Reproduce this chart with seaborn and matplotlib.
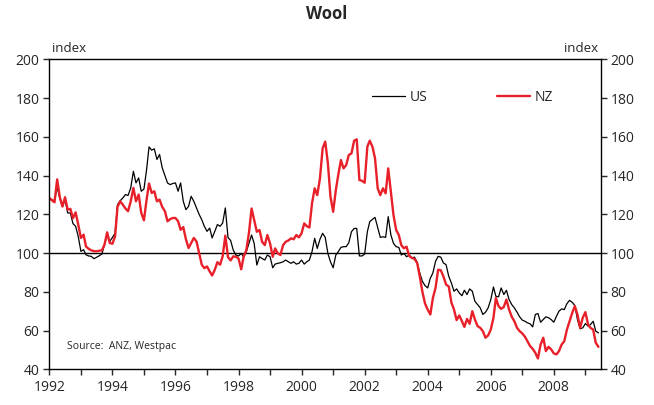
import matplotlib
matplotlib.use("Agg")
import matplotlib.pyplot as plt
import matplotlib.dates as mdates
from matplotlib.ticker import FuncFormatter
import seaborn as sns
import pandas as pd

# Monthly wool price index, Jan 1992 - Jun 2009
start_month = "1992-01-01"
us = [128.4, 127.5, 127.0, 134.0, 128.4, 124.0, 127.6, 120.7, 120.7, 115.2,
      113.8, 108.6, 100.9, 101.7, 99.1, 98.5, 98.3, 97.1, 97.8, 98.6,
      99.5, 104.3, 109.5, 106.0, 108.0, 110.3, 125.0, 127.0, 128.4, 130.2,
      129.7, 133.6, 142.2, 136.2, 138.8, 131.9, 133.0, 143.1, 154.8, 153.1,
      153.8, 148.3, 150.9, 144.0, 140.0, 136.2, 135.3, 135.9, 136.2, 131.9,
      136.2, 126.7, 122.4, 124.1, 129.3, 126.7, 123.3, 120.0, 117.2, 113.8,
      111.2, 112.9, 107.8, 111.2, 114.7, 113.8, 115.5, 123.3, 108.0, 106.5,
      101.5, 99.0, 98.5, 99.8, 98.1, 100.7, 105.0, 109.3, 105.0, 93.8,
      98.1, 97.2, 96.4, 99.0, 98.1, 92.4, 94.3, 94.7, 95.0, 95.5,
      96.4, 95.5, 94.7, 95.5, 94.3, 94.7, 96.4, 94.3, 95.5, 96.4,
      100.7, 107.6, 102.4, 107.1, 110.2, 108.1, 99.8, 95.5, 92.4, 99.0,
      100.7, 102.9, 103.3, 103.3, 105.3, 111.0, 112.7, 112.7, 98.5, 98.5,
      99.5, 111.0, 116.2, 117.4, 118.4, 113.2, 108.1, 108.4, 108.1, 118.8,
      109.3, 105.0, 103.3, 102.9, 99.0, 99.8, 98.1, 99.0, 97.5, 97.9,
      95.2, 89.7, 85.4, 83.2, 82.0, 87.1, 89.7, 95.7, 98.3, 97.9,
      94.9, 94.0, 88.0, 84.6, 80.3, 81.5, 79.4, 78.0, 80.8, 78.6,
      81.5, 80.3, 75.1, 73.4, 71.7, 68.3, 69.5, 71.7, 76.0, 82.5,
      77.7, 77.4, 82.0, 78.6, 80.8, 76.0, 73.4, 71.7, 69.5, 67.1,
      65.4, 64.8, 64.0, 63.5, 61.9, 68.3, 68.8, 64.3, 65.7, 67.1,
      66.6, 65.7, 64.3, 67.4, 70.0, 71.2, 70.8, 73.9, 75.6, 74.6,
      72.9, 65.7, 60.9, 61.4, 63.6, 62.3, 63.1, 64.8, 59.7, 58.8]
nz = [128.4, 127.2, 126.2, 138.0, 129.0, 124.0, 128.8, 122.4, 122.8, 118.0,
      121.0, 114.7, 107.8, 109.5, 103.4, 102.2, 101.4, 101.0, 100.9, 101.2,
      101.4, 104.3, 110.7, 105.2, 104.8, 108.6, 123.8, 126.7, 125.0, 123.0,
      121.6, 126.7, 133.6, 126.7, 130.2, 120.7, 116.9, 127.6, 135.9, 131.0,
      131.9, 126.7, 127.6, 123.8, 121.6, 116.4, 117.5, 118.1, 118.1, 116.4,
      112.0, 113.4, 107.2, 102.6, 105.2, 107.8, 106.0, 100.0, 94.0, 92.2,
      93.1, 90.5, 88.4, 91.4, 95.3, 94.0, 98.3, 109.0, 97.9, 96.2,
      98.3, 98.1, 97.2, 91.6, 98.1, 101.5, 110.2, 123.0, 117.0, 111.0,
      111.9, 105.8, 104.1, 109.3, 105.0, 98.1, 102.4, 99.8, 99.0, 104.1,
      105.8, 106.5, 107.6, 107.1, 109.3, 108.1, 110.2, 115.3, 113.9, 113.2,
      125.6, 133.4, 129.9, 138.5, 154.0, 157.5, 146.3, 129.1, 121.3, 132.5,
      140.3, 148.0, 143.7, 145.4, 150.6, 151.4, 158.0, 158.7, 137.7, 137.3,
      136.3, 154.9, 158.0, 154.9, 148.9, 133.4, 129.9, 133.4, 130.8, 143.7,
      131.7, 119.6, 111.9, 109.3, 104.1, 102.5, 103.3, 98.5, 97.5, 97.0,
      94.9, 88.0, 80.0, 74.0, 70.8, 68.3, 76.8, 82.0, 91.4, 91.1,
      88.0, 83.7, 82.8, 74.6, 70.8, 65.4, 67.8, 64.8, 61.9, 66.0,
      63.5, 70.0, 65.7, 62.3, 61.4, 59.7, 56.3, 57.5, 60.5, 66.6,
      76.8, 72.6, 71.2, 72.2, 76.0, 70.8, 67.1, 64.8, 61.4, 59.7,
      58.5, 56.8, 54.5, 52.0, 50.6, 48.5, 45.6, 52.8, 56.3, 49.4,
      51.6, 50.3, 48.2, 47.7, 49.4, 52.8, 54.5, 60.5, 64.8, 69.1,
      72.6, 68.3, 61.4, 66.6, 69.5, 63.1, 61.4, 60.5, 53.7, 51.6]
y_ticks = [40, 60, 80, 100, 120, 140, 160, 180, 200]

dates = pd.date_range(start_month, periods=len(us), freq="MS")
df = pd.concat([
    pd.DataFrame({"date": dates, "value": us, "series": "US"}),
    pd.DataFrame({"date": dates, "value": nz, "series": "NZ"}),
])

sns.set_style("white")
plt.rcParams["font.family"] = ["Open Sans", "DejaVu Sans"]

fig = plt.figure(figsize=(6.54, 4.05), dpi=100)
ax = fig.add_axes([0.0754, 0.0881, 0.8436, 0.7655])

red = "#e8202a"
sns.lineplot(data=df, x="date", y="value", hue="series", size="series",
             hue_order=["US", "NZ"], size_order=["US", "NZ"],
             palette={"US": "black", "NZ": red}, sizes={"US": 0.9, "NZ": 1.7},
             ax=ax, legend=False)

ax.axhline(100, color="black", lw=1.0, zorder=1)

ax.set_ylim(40, 200)
ax.set_yticks(y_ticks)
ax.set_xlim(pd.Timestamp("1992-01-01"), pd.Timestamp("2009-07-01"))
ax.xaxis.set_major_locator(mdates.YearLocator(1))
ax.xaxis.set_major_formatter(FuncFormatter(
    lambda v, p: str(mdates.num2date(v).year) if mdates.num2date(v).year % 2 == 0 else ""))
ax.set_xlabel("")
ax.set_ylabel("")

for s in ax.spines.values():
    s.set_color("black")
    s.set_linewidth(1.0)
ax.tick_params(axis="y", left=True, right=True, labelleft=True, labelright=True,
               direction="out", length=4, width=1, labelsize=10, pad=3)
ax.tick_params(axis="x", bottom=True, direction="out", length=4, width=1,
               labelsize=10, pad=4)

ax.text(0.005, 1.015, "index", transform=ax.transAxes, ha="left", va="bottom", fontsize=9.5)
ax.text(0.995, 1.015, "index", transform=ax.transAxes, ha="right", va="bottom", fontsize=9.5)
fig.text(0.5, 0.965, "Wool", ha="center", va="center", fontsize=12, fontweight="bold")
ax.text(0.032, 0.075, "Source:  ANZ, Westpac", transform=ax.transAxes,
        ha="left", va="center", fontsize=7.5)

handles = [plt.Line2D([], [], color="black", lw=0.9),
           plt.Line2D([], [], color=red, lw=1.7)]
ax.legend(handles, ["US", "NZ"], ncol=2, frameon=False, loc="center left",
          bbox_to_anchor=(0.585, 0.878), borderpad=0, borderaxespad=0,
          handlelength=2.4, handletextpad=0.3, columnspacing=5.0, fontsize=10)

fig.savefig("out.png", dpi=100)
